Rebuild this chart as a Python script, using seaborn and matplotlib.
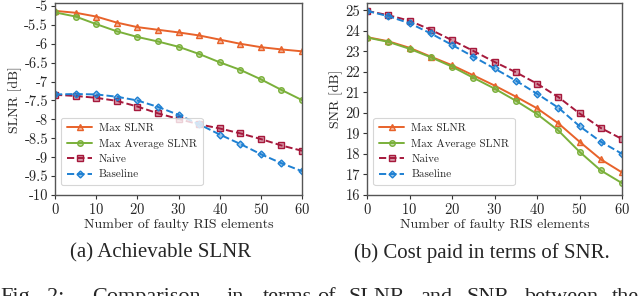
import pandas as pd
import matplotlib
matplotlib.use('Agg')
import matplotlib.pyplot as plt
import matplotlib.ticker as mticker
import seaborn as sns

# Data
faulty = [0, 5, 10, 15, 20, 25, 30, 35, 40, 45, 50, 55, 60]

slnr_max = [-5.13, -5.18, -5.28, -5.44, -5.56, -5.63, -5.70, -5.78, -5.89, -6.00, -6.09, -6.15, -6.20]
slnr_avg = [-5.17, -5.28, -5.48, -5.67, -5.82, -5.94, -6.08, -6.27, -6.49, -6.69, -6.94, -7.22, -7.49]
slnr_naive = [-7.35, -7.38, -7.43, -7.51, -7.66, -7.84, -7.99, -8.13, -8.24, -8.37, -8.52, -8.69, -8.83]
slnr_base = [-7.34, -7.33, -7.34, -7.40, -7.50, -7.67, -7.88, -8.13, -8.40, -8.65, -8.92, -9.16, -9.37]

snr_max = [23.70, 23.50, 23.18, 22.75, 22.33, 21.84, 21.34, 20.80, 20.23, 19.50, 18.60, 17.74, 17.10]
snr_avg = [23.68, 23.47, 23.13, 22.72, 22.26, 21.72, 21.19, 20.60, 19.95, 19.15, 18.11, 17.20, 16.58]
snr_naive = [24.98, 24.77, 24.50, 24.06, 23.55, 23.03, 22.49, 21.99, 21.43, 20.78, 19.98, 19.27, 18.73]
snr_base = [24.98, 24.72, 24.38, 23.88, 23.32, 22.75, 22.17, 21.58, 20.94, 20.26, 19.36, 18.60, 18.01]

labels = ['Max SLNR', 'Max Average SLNR', 'Naive', 'Baseline']
colors = ['#E8622A', '#7AB03A', '#A6193C', '#1E80D2']
markers = ['^', 'o', 's', 'D']
styles = ['-', '-', '--', '--']

slnr_ticks = [-10, -9.5, -9, -8.5, -8, -7.5, -7, -6.5, -6, -5.5, -5]
snr_ticks = [16, 17, 18, 19, 20, 21, 22, 23, 24, 25]

caption_a = '(a) Achievable SLNR'
caption_b = '(b) Cost paid in terms of SNR.'
fig_words = ['Fig.', '2:', 'Comparison', 'in', 'terms', 'of', 'SLNR', 'and', 'SNR', 'between', 'the']
fig_word_x = [0, 47, 92, 227, 263, 317, 348, 420, 467, 525, 612]

sns.set_style('ticks')
plt.rcParams['font.family'] = ['cmr10', 'DejaVu Serif']
plt.rcParams['axes.unicode_minus'] = False
plt.rcParams['axes.formatter.use_mathtext'] = True
plt.rcParams['font.size'] = 9

fig = plt.figure(figsize=(6.4, 2.96), dpi=100)
ax1 = fig.add_axes([55 / 640, 101 / 296, 247 / 640, 191.7 / 296])
ax2 = fig.add_axes([367 / 640, 101 / 296, 255 / 640, 191.7 / 296])


def draw_panel(ax, series, ylabel, ylim, yticks):
    for vals, lab, col, mk, ls in zip(series, labels, colors, markers, styles):
        df = pd.DataFrame({'x': faulty, 'y': vals})
        sns.lineplot(data=df, x='x', y='y', ax=ax, label=lab, color=col,
                     linestyle=ls, marker=mk, markersize=4 if mk != 'D' else 3.5,
                     markeredgecolor=col, markerfacecolor=matplotlib.colors.to_rgba(col, 0.45),
                     markeredgewidth=1.0, linewidth=1.4)
    ax.set_xlim(0, 60)
    ax.set_ylim(*ylim)
    ax.set_xticks([0, 10, 20, 30, 40, 50, 60])
    ax.set_yticks(yticks)
    ax.yaxis.set_major_formatter(mticker.FuncFormatter(lambda v, p: '%g' % v))
    ax.set_xlabel('Number of faulty RIS elements', fontsize=10, labelpad=1)
    ax.set_ylabel(ylabel, fontsize=10, labelpad=2)
    ax.tick_params(labelsize=10.5, length=3, width=0.8, pad=2, color='#333333')
    for sp in ax.spines.values():
        sp.set_color('#555555')
        sp.set_linewidth(1.0)
    leg = ax.legend(loc='lower left', fontsize=8, frameon=True, fancybox=True,
                    handlelength=2.3, handletextpad=0.6, labelspacing=0.5,
                    borderpad=0.5, borderaxespad=0,
                    bbox_to_anchor=(0.025, 0.052))
    leg.get_frame().set_edgecolor('#cccccc')
    leg.get_frame().set_linewidth(0.8)


draw_panel(ax1, [slnr_max, slnr_avg, slnr_naive, slnr_base], 'SLNR [dB]', (-10, -4.93), slnr_ticks)
draw_panel(ax2, [snr_max, snr_avg, snr_naive, snr_base], 'SNR [dB]', (16, 25.35), snr_ticks)

# Captions below the panels
fig.text(161 / 640, 1 - 253 / 296, caption_a, ha='center', va='center',
         fontsize=15, family='Liberation Serif')
fig.text(482 / 640, 1 - 253 / 296, caption_b, ha='center', va='center',
         fontsize=15, family='Liberation Serif')
for w, xp in zip(fig_words, fig_word_x):
    fig.text(xp / 640, 1 - 288 / 296, w, ha='left', va='top',
             fontsize=16, family='Liberation Serif')

fig.savefig('out.png', dpi=100)
